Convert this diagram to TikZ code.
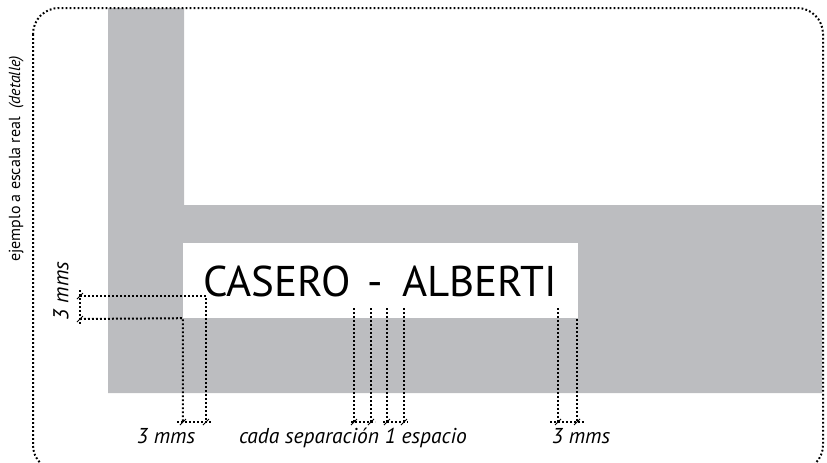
\documentclass[tikz,border=0pt]{standalone}
\usepackage{fontspec}
\setmainfont{PT Sans}
\usepackage{tikz}
\definecolor{barGray}{RGB}{188,189,192}
\tikzset{
	frame line/.style={
		line width=2pt,
		dash pattern=on 1.8pt off 2.2pt,
		rounded corners=26pt
	},
	dimension line/.style={
		line width=2pt,
		dash pattern=on 1.8pt off 2.2pt
	},
	dimension tick/.style={
		line width=1pt
	},
	dimension label/.style={
		inner sep=0pt,
		font=\fontsize{21.5}{24}\selectfont\itshape
	},
	name box/.style={
		fill=white,
		inner sep=0pt,
		minimum width=395pt,
		minimum height=75pt
	},
}

\begin{document}
\begin{tikzpicture}[x=1pt,y=-1pt]
\useasboundingbox (0,0) rectangle (827,463);
\clip (0,0) rectangle (827,463);

\fill[barGray] (108,8) -- (184,8) -- (184,205) -- (822,205) -- (822,393) -- (108,393) -- cycle;
\draw[frame line] (33,8) rectangle (823,471);

\node[name box] (nameBox) at (380.5,280.5) {};
	\node[anchor=base west, inner sep=0pt, font=\fontsize{43}{48}\selectfont] (nameText) at (203,296) {CASERO\hspace{17pt}-\hspace{19pt}ALBERTI};

\node[anchor=base west, inner sep=0pt, rotate=90, font=\fontsize{16}{18}\selectfont] (scaleNote) at (20,262) {ejemplo a escala real \ \textit{(detalle)}};

%left: 3 mms
\coordinate (vA) at (80,296);
\coordinate (vB) at (80,319);
	\coordinate (lA) at (206,296);
	\coordinate (lB) at (nameBox.south west);
		\coordinate (hA) at (206,422);
		\coordinate (hB) at (183,422);
\draw[dimension line] (vA) -- (lA) -- (hA);
\draw[dimension line] (vB) -- (lB) -- (hB);
\draw[dimension line] ([yshift=6pt]vA) -- ([yshift=-6pt]vB);
\draw[dimension line] ([xshift=-6pt]hB) -- ([xshift=6pt]hA);

%spaces
\foreach \x [count=\i] in {354,371,387,404}{
	\coordinate (sT\i) at (\x,308);
	\coordinate (sB\i) at (\x,422);
	\draw[dimension line] (sT\i) -- (sB\i);
}
\draw[dimension line] ([xshift=-3pt]sB1) -- ([xshift=4pt]sB2);
\draw[dimension line] ([xshift=-4pt]sB3) -- ([xshift=4pt]sB4);

%right: 3 mms
\coordinate (rT1) at (558,308);
\coordinate (rT2) at (577,319);
	\coordinate (rB1) at (558,422);
	\coordinate (rB2) at (577,422);
\draw[dimension line] (rT1) -- (rB1);
\draw[dimension line] (rT2) -- (rB2);
\draw[dimension line] ([xshift=-8pt]rB1) -- ([xshift=8pt]rB2);

\foreach \p in {vA,vB,hA,hB,sB1,sB2,sB3,sB4,rB1,rB2}
	\draw[dimension tick] (\p) +(-3,3) -- +(3,-3);

\node[dimension label, rotate=90] (leftLabel) at (61,291) {3 mms};
\node[dimension label, anchor=base] (bottomLeftLabel) at (166,443) {3 mms};
\node[dimension label, anchor=base] (spaceLabel) at (353,443) {cada separación 1 espacio};
\node[dimension label, anchor=base] (bottomRightLabel) at (581,443) {3 mms};

\end{tikzpicture}
\end{document}
